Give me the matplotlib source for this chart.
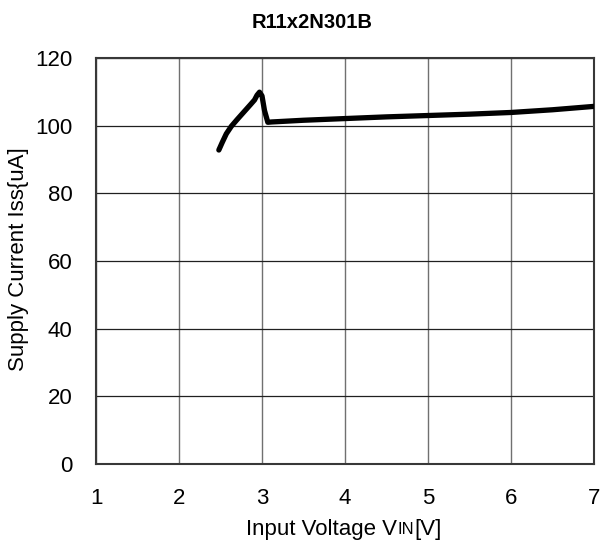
import numpy as np
import matplotlib
matplotlib.use("Agg")
from matplotlib import pyplot as plt
from matplotlib.offsetbox import TextArea, HPacker, AnchoredOffsetbox

plt.rcParams['font.family'] = ['Liberation Sans', 'DejaVu Sans']

vin = [2.48, 2.52, 2.57, 2.63, 2.70, 2.78, 2.86, 2.91, 2.94, 2.97, 3.00, 3.03, 3.07, 3.12, 3.5, 4.0, 4.5, 5.0, 5.5, 6.0, 6.5, 7.0]
iss = [92.8, 95.0, 97.6, 99.8, 101.8, 104.0, 106.2, 107.6, 109.0, 109.9, 108.8, 104.5, 101.0, 101.1, 101.6, 102.1, 102.6, 103.0, 103.4, 103.9, 104.7, 105.7]

xticks = [1, 2, 3, 4, 5, 6, 7]
yticks = [0, 20, 40, 60, 80, 100, 120]

fig = plt.figure(figsize=(6, 5.46), dpi=100)
ax = fig.add_axes([96/600, 1-464/546, (594-96)/600, (464-58)/546])

ax.plot(vin, iss, color='black', lw=3.8, solid_capstyle='round', solid_joinstyle='round', zorder=3)

ax.set_xlim(1, 7)
ax.set_ylim(0, 120)
ax.set_xticks(xticks)
ax.set_yticks(yticks)
ax.tick_params(length=0, labelsize=16)
ax.tick_params(axis='x', pad=17)
ax.tick_params(axis='y', pad=17)
for x in xticks:
    ax.axvline(x, color='#707070', lw=1.0, zorder=1)
for y in yticks:
    ax.axhline(y, color='#202020', lw=0.9, zorder=1)
for s in ax.spines.values():
    s.set_color('#383838')
    s.set_linewidth(1.5)

fig.text(312/600, 1-22/546, 'R11x2N301B', fontsize=14.5, fontweight='bold', ha='center', va='center')

# x label with small-size "IN"
xl = HPacker(children=[TextArea('Input Voltage V', textprops=dict(fontsize=16)),
                       TextArea('IN', textprops=dict(fontsize=12)),
                       TextArea('[V]', textprops=dict(fontsize=16))],
             align='baseline', pad=0, sep=0)
box = AnchoredOffsetbox(loc='center', child=xl, pad=0, frameon=False,
                        bbox_to_anchor=(344/600, 1-529/546), bbox_transform=fig.transFigure, borderpad=0)
fig.add_artist(box)

fig.text(19/600, 1-259/546, 'Supply Current Iss{uA]', fontsize=16, rotation=90, ha='center', va='center')

fig.savefig('out.png', dpi=100)
